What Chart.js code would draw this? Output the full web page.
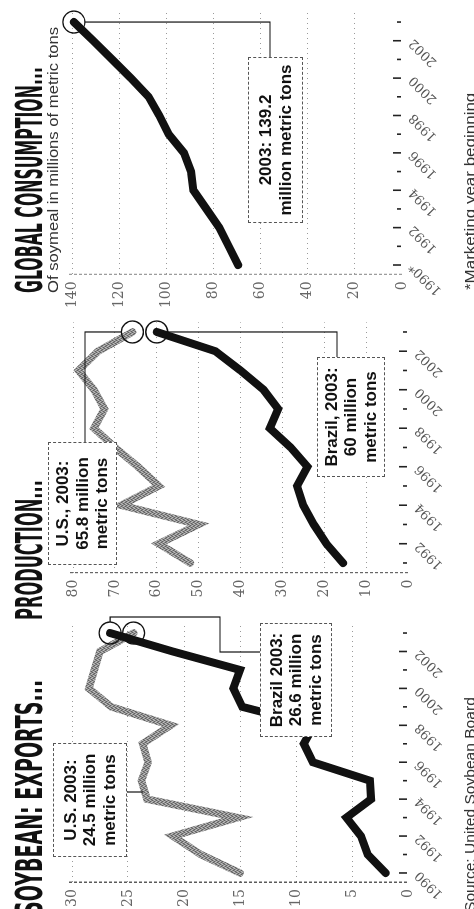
<!DOCTYPE html>
<html><head><meta charset="utf-8">
<script src="https://cdn.jsdelivr.net/npm/chart.js@4.4.1/dist/chart.umd.min.js"></script>
<style>
html,body{margin:0;padding:0;background:#fff;overflow:hidden;}
body{width:474px;height:909px;position:relative;}
#land{position:absolute;left:0;top:0;width:909px;height:474px;transform-origin:0 0;transform:translateY(909px) rotate(-90deg);background:#fff;overflow:hidden;}
canvas{position:absolute;top:0;}
.title{position:absolute;top:11px;font-family:"DejaVu Sans Condensed","DejaVu Sans","Liberation Sans",sans-serif;font-weight:bold;font-size:37px;line-height:37px;white-space:nowrap;transform-origin:0 0;color:#111;}
.note{position:absolute;font-family:"Liberation Sans",Arial,sans-serif;white-space:nowrap;transform-origin:0 0;color:#333;}
.box{position:absolute;box-sizing:border-box;border:1px dashed #555;background:#fff;font-family:"Liberation Sans",Arial,sans-serif;font-weight:bold;font-size:17px;line-height:19.5px;text-align:center;display:flex;flex-direction:column;justify-content:center;color:#111;}
</style></head><body>
<div id="land">
<canvas id="cExp" width="300" height="474" style="left:0px"></canvas>
<canvas id="cProd" width="300" height="474" style="left:300px"></canvas>
<canvas id="cCons" width="309" height="474" style="left:600px"></canvas>

<div class="title" data-l="-6" data-w="235">SOYBEAN: EXPORTS...</div>
<div class="title" data-l="289" data-w="140">PRODUCTION...</div>
<div class="title" data-l="616" data-w="226">GLOBAL CONSUMPTION...</div>
<div class="note" style="top:46px;font-size:14px;line-height:14px" data-l="616" data-w="266">Of soymeal in millions of metric tons</div>
<div class="note" style="top:462px;font-size:15px;line-height:15px" data-l="-3" data-w="215">Source: United Soybean Board</div>
<div class="note" style="top:462px;font-size:15px;line-height:15px" data-l="619" data-w="197">*Marketing year beginning</div>

<div class="box" style="left:52px;top:53px;width:114px;height:74px"><div>U.S. 2003:</div><div>24.5 million</div><div>metric tons</div></div>
<div class="box" style="left:172px;top:260px;width:114px;height:72px"><div>Brazil 2003:</div><div>26.6 million</div><div>metric tons</div></div>
<div class="box" style="left:344px;top:48px;width:123px;height:69px"><div>U.S., 2003:</div><div>65.8 million</div><div>metric tons</div></div>
<div class="box" style="left:432px;top:317px;width:120px;height:68px"><div>Brazil, 2003:</div><div>60 million</div><div>metric tons</div></div>
<div class="box" style="left:686px;top:248px;width:166px;height:55px"><div>2003: 139.2</div><div>million metric tons</div></div>
</div>

<script>
// ---- data ----
const exportYears = ['1990','1991','1992','1993','1994','1995','1996','1997','1998','1999','2000','2001','2002','2003'];
const usExports = [15, 18.5, 21, 15.2, 23.3, 23.8, 23.2, 23.7, 21.2, 26.5, 28.5, 28, 27.5, 24.5];
const brazilExports = [2, 3.6, 4.2, 5.5, 3.3, 3.4, 8.5, 9.3, 8.4, 14.8, 15.6, 15, 21, 26.6];
const exportTicks = [0, 5, 10, 15, 20, 25, 30];

const prodYears = ['1991','1992','1993','1994','1995','1996','1997','1998','1999','2000','2001','2002','2003'];
const usProduction = [52, 59.5, 50, 68.5, 59.5, 64.5, 70, 75, 72.5, 75, 78.7, 74, 65.8];
const brazilProduction = [15.5, 19.5, 22.5, 25, 26.5, 24, 28, 33, 31, 34.5, 40, 46, 60];
const prodTicks = [0, 10, 20, 30, 40, 50, 60, 70, 80];

const consYears = ['1990','1991','1992','1993','1994','1995','1996','1997','1998','1999','2000','2001','2002','2003'];
const globalConsumption = [69.5, 73.5, 77.5, 83, 88.5, 89.5, 92.5, 99, 103, 107.5, 115, 123, 131, 139.2];
const consTicks = [0, 20, 40, 60, 80, 100, 120, 140];

// ---- helpers ----
document.querySelectorAll('[data-w]').forEach(el => {
  const w = el.offsetWidth, t = +el.dataset.w;
  el.style.left = el.dataset.l + 'px';
  el.style.transform = 'scaleX(' + (t / w) + ')';
});

function stipple(ctx) {
  const c = document.createElement('canvas'); c.width = c.height = 4;
  const g = c.getContext('2d');
  g.fillStyle = '#8e8e8e'; g.fillRect(0, 0, 4, 4);
  g.fillStyle = '#606060';
  [[0,0],[2,1],[1,3],[3,2]].forEach(p => g.fillRect(p[0], p[1], 1, 1));
  g.fillStyle = '#bcbcbc';
  [[1,1],[3,0],[0,2],[2,3]].forEach(p => g.fillRect(p[0], p[1], 1, 1));
  return ctx.createPattern(c, 'repeat');
}

function lastRadius(arr) { return arr.map((_, i) => i === arr.length - 1 ? 11 : 0); }

function series(data, color, width) {
  return {
    data: data, borderColor: color, borderWidth: width, fill: false, tension: 0,
    borderCapStyle: 'round', borderJoinStyle: 'miter', clip: false,
    pointRadius: lastRadius(data), pointBorderColor: '#111', pointBorderWidth: 1.3,
    pointBackgroundColor: 'rgba(0,0,0,0)', pointHoverRadius: 0
  };
}

function deco(years, leaderFn, axisColor) {
  return {
    id: 'deco',
    beforeDatasetsDraw(chart) {
      const ctx = chart.ctx, a = chart.chartArea;
      ctx.save();
      ctx.strokeStyle = axisColor; ctx.lineWidth = 1.2; ctx.setLineDash([3, 2]);
      ctx.beginPath(); ctx.moveTo(a.left, a.top - 3); ctx.lineTo(a.left, a.bottom); ctx.stroke();
      ctx.restore();
    },
    afterDatasetsDraw(chart) {
      const ctx = chart.ctx, xs = chart.scales.x, bottom = chart.chartArea.bottom;
      ctx.save();
      ctx.strokeStyle = '#222'; ctx.lineWidth = 1.6;
      years.forEach((y, i) => {
        const x = xs.getPixelForValue(i);
        const len = (+y % 2 === 0) ? 8 : 4;
        ctx.beginPath(); ctx.moveTo(x, bottom - len - 1); ctx.lineTo(x, bottom - 1); ctx.stroke();
      });
      ctx.strokeStyle = '#111'; ctx.lineWidth = 1.2;
      leaderFn(chart).forEach(path => {
        ctx.beginPath();
        path.forEach((p, k) => k ? ctx.lineTo(p[0], p[1]) : ctx.moveTo(p[0], p[1]));
        ctx.stroke();
      });
      ctx.restore();
    }
  };
}

function makeChart(id, years, datasets, yMax, yTicks, area, leaderFn, suffix, axisColor) {
  const canvas = document.getElementById(id);
  return new Chart(canvas.getContext('2d'), {
    type: 'line',
    data: { labels: years, datasets: datasets },
    options: {
      responsive: false, animation: false, events: [],
      layout: { padding: { top: area.top, right: canvas.width - area.right, left: 0, bottom: 0 } },
      plugins: { legend: { display: false }, tooltip: { enabled: false } },
      scales: {
        x: {
          type: 'category', offset: true,
          grid: { display: false, drawTicks: false }, border: { display: false },
          afterFit(s) { s.height = canvas.height - area.bottom; },
          ticks: {
            autoSkip: false, maxRotation: 45, minRotation: 45, padding: 4, color: '#555',
            font: { family: '"DejaVu Serif", serif', size: 13 },
            callback(v, i) { const y = years[i]; return (+y % 2 === 0) ? y + (i === 0 && suffix ? suffix : '') : ''; }
          }
        },
        y: {
          min: 0, max: yMax,
          afterBuildTicks(s) { s.ticks = yTicks.map(v => ({ value: v })); },
          afterFit(s) { s.width = area.left; },
          grid: { color: c => (c.tick && c.tick.value === 0) ? 'rgba(0,0,0,0)' : '#9a9a9a', lineWidth: 1, drawTicks: false },
          border: { display: false, dash: [1, 4] },
          ticks: { padding: 7, color: '#666', font: { family: '"DejaVu Serif", serif', size: 14 } }
        }
      }
    },
    plugins: [deco(years, leaderFn, axisColor)]
  });
}

// ---- exports ----
const ctxE = document.getElementById('cExp').getContext('2d');
makeChart('cExp', exportYears,
  [series(brazilExports, '#111', 8), series(usExports, stipple(ctxE), 7.5)],
  30, exportTicks, { left: 26.8, right: 285.2, top: 72, bottom: 408 },
  ch => {
    const n = exportYears.length - 1;
    const bx = ch.scales.x.getPixelForValue(n), by = ch.scales.y.getPixelForValue(brazilExports[n]);
    return [[[bx + 11, by], [292, by], [292, 220], [257, 220], [257, 260]], [[117, 127], [117, 143]]];
  }, null, '#333');

// ---- production ----
const ctxP = document.getElementById('cProd').getContext('2d');
makeChart('cProd', prodYears,
  [series(brazilProduction, '#111', 8), series(usProduction, stipple(ctxP), 7.5)],
  80, prodTicks, { left: 36.4, right: 286.65, top: 73, bottom: 408 },
  ch => {
    const n = prodYears.length - 1;
    const cx = ch.scales.x.getPixelForValue(n);
    const uy = ch.scales.y.getPixelForValue(usProduction[n]);
    const by = ch.scales.y.getPixelForValue(brazilProduction[n]);
    return [[[cx, uy - 11], [cx, 85], [167, 85]], [[cx, by + 11], [cx, 337], [252, 337]]];
  }, null, '#666');

// ---- consumption ----
makeChart('cCons', consYears,
  [series(globalConsumption, '#111', 8)],
  140, consTicks, { left: 34.65, right: 296.3, top: 72, bottom: 402 },
  ch => {
    const n = consYears.length - 1;
    const cx = ch.scales.x.getPixelForValue(n);
    const cy = ch.scales.y.getPixelForValue(globalConsumption[n]);
    return [[[cx, cy + 11], [cx, 270], [252, 270]]];
  }, '*', '#999');
</script>
</body></html>
